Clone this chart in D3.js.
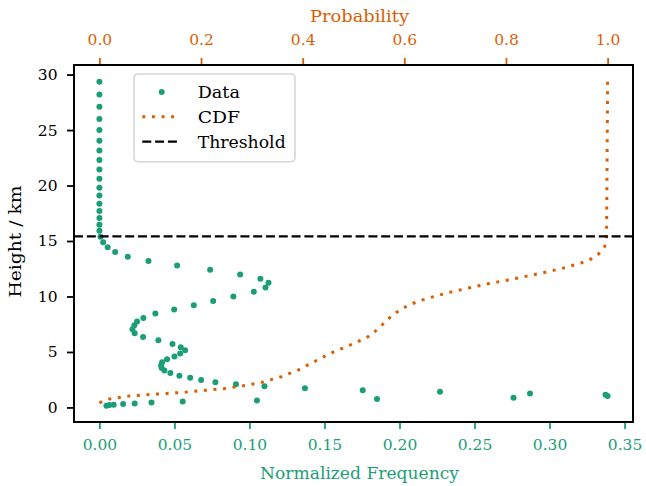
<!DOCTYPE html>
<html>
<head>
<meta charset="utf-8">
<script src="https://cdn.jsdelivr.net/npm/d3@7"></script>
<style>
  body { margin: 0; background: #fff; }
  text { font-family: "DejaVu Serif", serif; }
</style>
</head>
<body>
<script>
// profile levels (km) and normalized frequency
const heights = [0.15, 0.21, 0.24, 0.30, 0.36, 0.45, 0.54, 0.63, 0.75, 0.88,
  1.02, 1.15, 1.26, 1.42, 1.56, 1.74, 1.90, 2.08, 2.26, 2.47,
  2.68, 2.86, 3.10, 3.34, 3.55, 3.79, 4.07, 4.34, 4.58, 4.85,
  5.15, 5.42, 5.72, 6.05, 6.35, 6.68, 7.05, 7.41, 7.74, 8.07,
  8.46, 8.83, 9.21, 9.60, 10.00, 10.42, 10.81, 11.23, 11.59, 11.99,
  12.40, 12.80, 13.19, 13.58, 14.00, 14.43, 14.88, 15.38, 15.93, 16.47,
  17.07, 17.71, 18.36, 19.09, 19.81, 20.62, 21.44, 22.31, 23.15, 24.03,
  25.00, 25.99, 27.10, 28.21, 29.36]
const freq = [0.0047, 0.0067, 0.0095, 0.0158, 0.0235, 0.0347, 0.0555, 0.105, 0.185, 0.276,
  0.3387, 0.3373, 0.287, 0.227, 0.1755, 0.137, 0.110, 0.091, 0.0773, 0.0678,
  0.0605, 0.0533, 0.0473, 0.0433, 0.0415, 0.0411, 0.0418, 0.0451, 0.0500, 0.0538,
  0.0571, 0.0542, 0.0487, 0.0393, 0.0291, 0.0235, 0.0220, 0.0233, 0.0251, 0.0293,
  0.0373, 0.0498, 0.0629, 0.0758, 0.0893, 0.1029, 0.1107, 0.1127, 0.1073, 0.0938,
  0.0738, 0.0518, 0.0327, 0.0189, 0.0105, 0.0055, 0.0025, 0.0007, 0, 0,
  0, 0, 0, 0, 0, 0, 0, 0, 0, 0,
  0, 0, 0, 0, 0]

// CDF curve
const cdfHeight = [0.42, 0.75, 1.02, 1.15, 1.26, 1.38, 1.54, 1.69, 1.96, 2.26,
  2.74, 3.37, 4.18, 4.97, 5.63, 6.35, 6.87, 7.43, 8.04, 8.58,
  9.03, 9.39, 9.69, 9.94, 10.39, 10.78, 11.14, 11.47, 11.81, 12.17,
  12.56, 13.04, 13.37, 13.82, 14.48, 15.33, 29.40]
const cdfProb = [0.0, 0.018, 0.056, 0.094, 0.132, 0.170, 0.207, 0.245, 0.283, 0.319,
  0.356, 0.391, 0.425, 0.459, 0.494, 0.528, 0.543, 0.556, 0.570, 0.585,
  0.601, 0.618, 0.636, 0.654, 0.691, 0.728, 0.764, 0.802, 0.839, 0.876,
  0.913, 0.949, 0.967, 0.982, 0.994, 0.998, 1.0]

const threshold = 15.42

const freqTicks = [0, 0.05, 0.10, 0.15, 0.20, 0.25, 0.30, 0.35]
const probTicks = [0, 0.2, 0.4, 0.6, 0.8, 1.0]
const heightTicks = [0, 5, 10, 15, 20, 25, 30]

const legendLabels = ['Data', 'CDF', 'Threshold']

const green = '#1b9e77', orange = '#d95f02'
const fs = 15.5
const serif = '"DejaVu Serif", serif'

let margin = {top: 65, right: 13, bottom: 64, left: 74},
  width = 646 - margin.left - margin.right,   // 559
  height = 486 - margin.top - margin.bottom   // 357

let data = heights.map((h, i) => ({h: h, f: freq[i]}))
let cdf = cdfHeight.map((h, i) => ({h: h, p: cdfProb[i]}))

// matplotlib style 5% margins
let fExt = d3.extent(freq), fPad = 0.05 * (fExt[1] - fExt[0])
let x = d3.scaleLinear()
    .domain([fExt[0] - fPad, fExt[1] + fPad])
    .range([0, width])

let xTop = d3.scaleLinear()
    .domain([-0.05, 1.05])
    .range([0, width])

let hExt = [d3.min(heights.concat(cdfHeight)), d3.max(heights.concat(cdfHeight))],
  hPad = 0.05 * (hExt[1] - hExt[0])
let y = d3.scaleLinear()
    .domain([hExt[0] - hPad, hExt[1] + hPad])
    .range([height, 0])

let svg = d3.select('body').append('svg')
    .attr('width', 646)
    .attr('height', 486)
    .style('font-family', serif)
  .append('g')
    .attr('transform', `translate(${margin.left},${margin.top})`)

// axes
function styleAxis(g, color) {
  g.attr('font-family', null).attr('font-size', null)
  g.select('.domain').remove()
  g.selectAll('.tick line').attr('stroke', color).attr('stroke-width', 1.8)
  g.selectAll('.tick text')
      .attr('fill', color)
      .style('font-family', serif)
      .style('font-size', fs + 'px')
}

svg.append('g')
    .attr('transform', `translate(0,${height})`)
    .call(d3.axisBottom(x).tickValues(freqTicks).tickFormat(d3.format('.2f'))
      .tickSize(7).tickPadding(10))
    .call(g => styleAxis(g, green))

svg.append('g')
    .call(d3.axisTop(xTop).tickValues(probTicks).tickFormat(d3.format('.1f'))
      .tickSize(7).tickPadding(13.5))
    .call(g => styleAxis(g, orange))

svg.append('g')
    .call(d3.axisLeft(y).tickValues(heightTicks).tickFormat(d3.format('d'))
      .tickSize(7).tickPadding(9.5))
    .call(g => styleAxis(g, '#000'))

// data points
svg.append('g')
  .selectAll('circle')
  .data(data)
  .join('circle')
    .attr('cx', d => x(d.f))
    .attr('cy', d => y(d.h))
    .attr('r', 3)
    .attr('fill', green)

// cdf
let line = d3.line()
    .x(d => xTop(d.p))
    .y(d => y(d.h))

svg.append('path')
    .datum(cdf)
    .attr('d', line)
    .attr('fill', 'none')
    .attr('stroke', orange)
    .attr('stroke-width', 3)
    .attr('stroke-dasharray', '3,6.6')

// threshold
svg.append('line')
    .attr('x1', 0)
    .attr('x2', width)
    .attr('y1', y(threshold))
    .attr('y2', y(threshold))
    .attr('stroke', '#000')
    .attr('stroke-width', 2.3)
    .attr('stroke-dasharray', '9,3.8')

// frame
svg.append('rect')
    .attr('width', width)
    .attr('height', height)
    .attr('fill', 'none')
    .attr('stroke', '#000')
    .attr('stroke-width', 2)

// axis labels
function label(txt, color, len) {
  return svg.append('text')
      .style('font-family', serif)
      .style('font-size', '16.5px')
      .attr('text-anchor', 'middle')
      .attr('fill', color)
      .attr('textLength', len)
      .attr('lengthAdjust', 'spacingAndGlyphs')
      .text(txt)
}

label('Normalized Frequency', green, 199)
    .attr('x', width / 2 + 6)
    .attr('y', height + 57)

label('Probability', orange, 99)
    .attr('x', width / 2 + 6)
    .attr('y', -43.3)

label('Height / km', '#000', 112)
    .attr('transform', `translate(${20.5 - margin.left},${height / 2 - 2}) rotate(-90)`)

// legend
let legend = svg.append('g')
    .attr('transform', `translate(${134 - margin.left},${74 - margin.top})`)

legend.append('rect')
    .attr('width', 161)
    .attr('height', 87.7)
    .attr('rx', 4)
    .attr('fill', '#fff')
    .attr('fill-opacity', 0.8)
    .attr('stroke', '#d6d6d6')
    .attr('stroke-width', 1.6)

const rowY = [18, 42.7, 67.7]
const textLen = [42.3, 42.3, 88]

legend.append('circle')
    .attr('cx', 27.7)
    .attr('cy', rowY[0])
    .attr('r', 3)
    .attr('fill', green)

legend.append('line')
    .attr('x1', 8.3).attr('x2', 46)
    .attr('y1', rowY[1]).attr('y2', rowY[1])
    .attr('stroke', orange)
    .attr('stroke-width', 3)
    .attr('stroke-dasharray', '3,6.6')

legend.append('line')
    .attr('x1', 8.3).attr('x2', 46)
    .attr('y1', rowY[2]).attr('y2', rowY[2])
    .attr('stroke', '#000')
    .attr('stroke-width', 2.3)
    .attr('stroke-dasharray', '9,3.8')

legend.selectAll('.ltext')
  .data(legendLabels)
  .join('text')
    .attr('class', 'ltext')
    .attr('x', 63.7)
    .attr('y', (d, i) => rowY[i] + 6)
    .attr('textLength', (d, i) => textLen[i])
    .attr('lengthAdjust', 'spacingAndGlyphs')
    .style('font-family', serif)
    .style('font-size', '16.5px')
    .attr('fill', '#000')
    .text(d => d)
</script>
</body>
</html>
